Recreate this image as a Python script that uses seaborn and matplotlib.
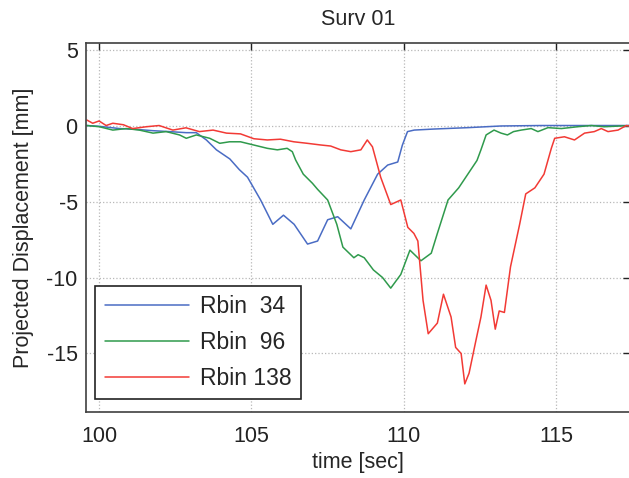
import numpy as np
import pandas as pd
import seaborn as sns
import matplotlib.pyplot as plt

t_34 = [99.6, 100.0, 100.67, 101.2, 101.77, 102.3, 102.86, 103.19, 103.52, 103.85,
        104.29, 104.6, 104.87, 105.3, 105.7, 106.05, 106.4, 106.84, 107.17, 107.5,
        107.83, 108.26, 108.7, 109.14, 109.47, 109.8, 109.95, 110.12, 110.34, 111.0,
        112.1, 113.19, 114.5, 115.5, 116.5, 117.45]
d_34 = [0.0, -0.05, -0.2, -0.25, -0.34, -0.4, -0.47, -0.47, -0.95, -1.6,
        -2.2, -2.9, -3.4, -4.9, -6.5, -5.9, -6.5, -7.8, -7.6, -6.2,
        -6.0, -6.8, -4.9, -3.2, -2.6, -2.4, -1.3, -0.4, -0.3, -0.23,
        -0.14, -0.03, 0.0, 0.0, 0.0, 0.0]

t_96 = [99.6, 100.01, 100.45, 100.89, 101.32, 101.77, 102.2, 102.64, 102.86, 103.19,
        103.63, 103.96, 104.28, 104.64, 105.07, 105.52, 105.85, 106.17, 106.34, 106.45,
        106.7, 107.0, 107.17, 107.5, 107.8, 108.0, 108.36, 108.5, 108.7, 109.0,
        109.3, 109.57, 109.9, 110.2, 110.56, 110.9, 111.1, 111.45, 111.8, 112.1,
        112.4, 112.53, 112.7, 112.96, 113.19, 113.4, 113.6, 113.85, 114.18, 114.4,
        114.73, 115.17, 115.7, 116.15, 116.58, 117.45]
d_96 = [0.0, -0.08, -0.3, -0.2, -0.3, -0.5, -0.4, -0.62, -0.84, -0.62,
        -0.84, -1.17, -1.07, -1.07, -1.28, -1.5, -1.6, -1.5, -1.72, -2.27,
        -3.2, -3.8, -4.2, -4.9, -6.5, -8.0, -8.7, -8.5, -8.7, -9.5,
        -10.0, -10.7, -9.8, -8.2, -8.9, -8.4, -7.1, -4.9, -4.1, -3.2,
        -2.3, -1.6, -0.62, -0.3, -0.5, -0.62, -0.4, -0.3, -0.2, -0.4,
        -0.14, -0.2, -0.08, 0.0, -0.08, 0.0]

t_138 = [99.6, 99.79, 100.0, 100.23, 100.45, 100.8, 101.1, 101.55, 101.97, 102.42,
         102.85, 103.29, 103.74, 104.18, 104.64, 105.08, 105.52, 105.95, 106.39, 106.83,
         107.27, 107.6, 107.93, 108.26, 108.59, 108.8, 108.97, 109.24, 109.57, 109.9,
         110.13, 110.33, 110.46, 110.63, 110.8, 111.1, 111.3, 111.55, 111.7, 111.88,
         112.0, 112.14, 112.37, 112.53, 112.7, 112.86, 113.0, 113.13, 113.3, 113.5,
         113.8, 114.0, 114.3, 114.6, 114.84, 114.95, 115.27, 115.6, 115.93, 116.25,
         116.48, 116.7, 117.03, 117.3, 117.45]
d_138 = [0.36, 0.15, 0.3, 0.0, 0.15, 0.05, -0.2, -0.08, 0.0, -0.3,
         -0.15, -0.4, -0.3, -0.5, -0.55, -0.87, -0.95, -0.9, -1.07, -1.17,
         -1.28, -1.35, -1.6, -1.72, -1.6, -0.95, -1.4, -3.4, -5.2, -4.9,
         -6.7, -7.1, -7.6, -11.5, -13.7, -13.0, -11.1, -12.6, -14.6, -15.0,
         -17.0, -16.3, -14.1, -12.6, -10.5, -11.5, -13.4, -12.2, -12.3, -9.3,
         -6.5, -4.5, -4.1, -3.2, -1.5, -0.84, -0.74, -0.95, -0.5, -0.4,
         -0.2, -0.4, -0.3, 0.0, -0.05]

labels = ["Rbin  34", "Rbin  96", "Rbin 138"]
colors = ["#4a6cc4", "#2f9a4c", "#f23a35"]

df = pd.concat([
    pd.DataFrame({"time": t_34, "disp": d_34, "bin": labels[0]}),
    pd.DataFrame({"time": t_96, "disp": d_96, "bin": labels[1]}),
    pd.DataFrame({"time": t_138, "disp": d_138, "bin": labels[2]}),
], ignore_index=True)

sns.set_theme(style="white")
plt.rcParams["font.family"] = ["Liberation Sans", "DejaVu Sans"]
plt.rcParams["axes.unicode_minus"] = False

fig = plt.figure(figsize=(6.29, 4.78), dpi=100)
ax = fig.add_axes([86 / 629, 1 - 411.7 / 478, 1 - 86 / 629 + 0.002, (411.7 - 43) / 478])

sns.lineplot(data=df, x="time", y="disp", hue="bin", palette=dict(zip(labels, colors)),
             linewidth=1.1, ax=ax, sort=False, estimator=None)

ax.set_xlim(99.57, 117.43)
ax.set_ylim(-18.83, 5.43)
ax.set_xticks([100, 105, 110, 115])
ax.set_yticks([5, 0, -5, -10, -15])
ax.grid(True, linestyle=":", color="#b8b8b8", linewidth=0.9)
ax.tick_params(direction="in", length=5, width=1.0, top=True, right=True,
               labelsize=15.5, colors="#222222", pad=6)
ax.tick_params(axis="x", pad=10)
for s in ax.spines.values():
    s.set_color("#404040")
    s.set_linewidth(1.2)

ax.set_title("Surv 01", fontsize=15.5, pad=13)
ax.set_xlabel("time [sec]", fontsize=15.5, labelpad=4)
ax.set_ylabel("Projected Displacement [mm]", fontsize=15.5, labelpad=9)

leg = ax.legend(loc="lower left", bbox_to_anchor=(0.0166, 0.034), borderaxespad=0,
                fontsize=16.5, handlelength=3.7, handletextpad=0.45, labelspacing=0.55,
                borderpad=0.42, fancybox=False, framealpha=1, edgecolor="#222222")
leg.get_frame().set_linewidth(1.2)

fig.savefig("out.png", dpi=100)
